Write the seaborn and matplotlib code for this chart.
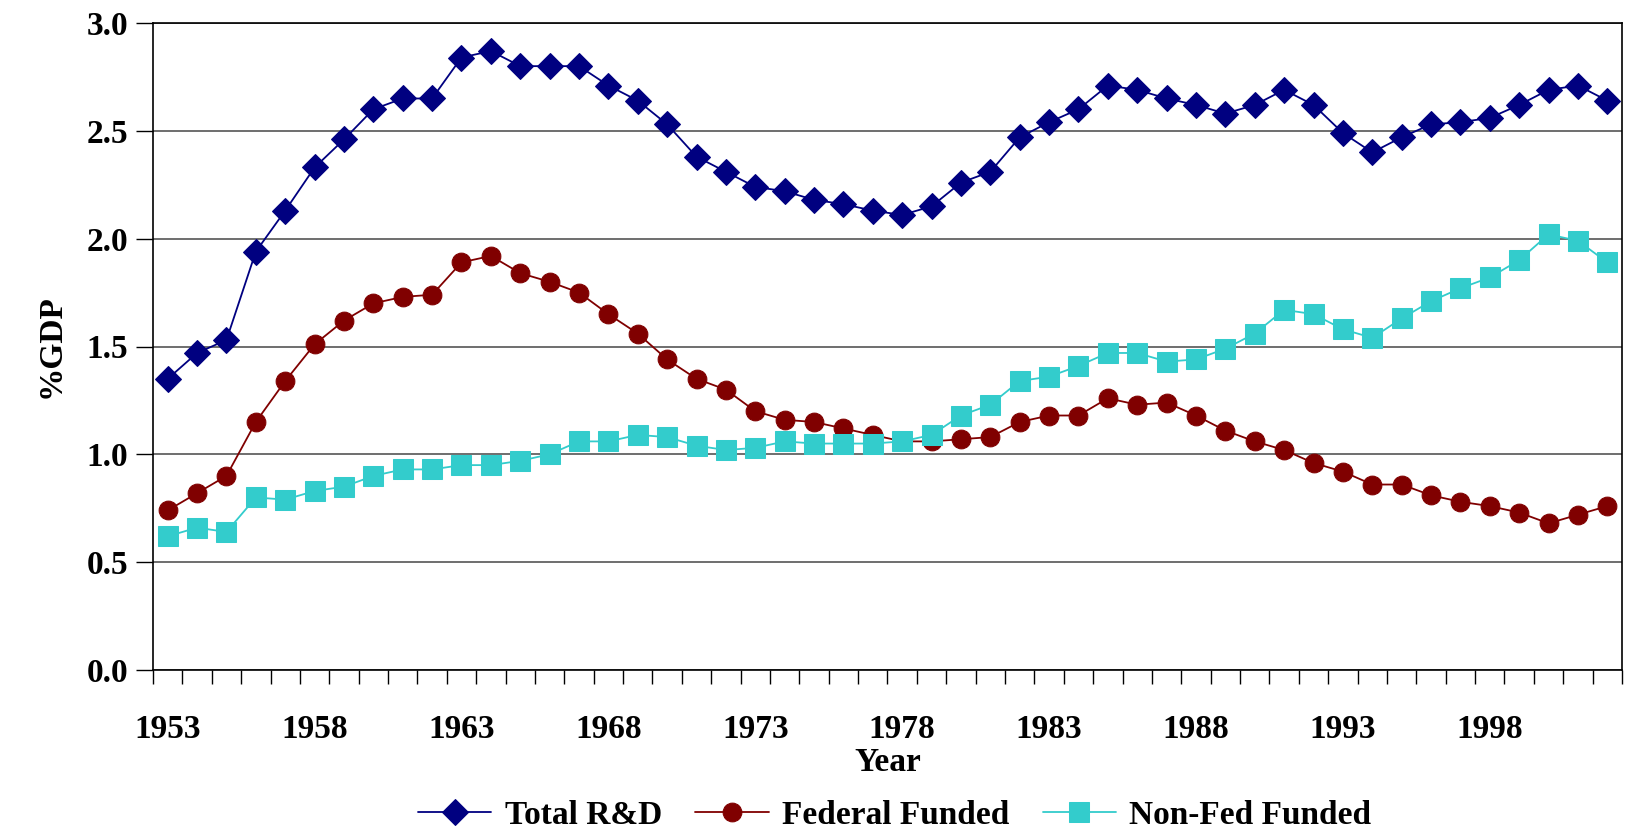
import numpy as np
import pandas as pd
import matplotlib
matplotlib.use("Agg")
import matplotlib.pyplot as plt
import seaborn as sns

years = list(range(1953, 2003))
total_rd = [1.35, 1.47, 1.53, 1.94, 2.13, 2.33, 2.46, 2.60, 2.65, 2.65,
            2.84, 2.87, 2.80, 2.80, 2.80, 2.71, 2.64, 2.53, 2.38, 2.31,
            2.24, 2.22, 2.18, 2.16, 2.13, 2.11, 2.15, 2.26, 2.31, 2.47,
            2.54, 2.60, 2.71, 2.69, 2.65, 2.62, 2.58, 2.62, 2.69, 2.62,
            2.49, 2.40, 2.47, 2.53, 2.54, 2.56, 2.62, 2.69, 2.71, 2.64]
federal = [0.74, 0.82, 0.90, 1.15, 1.34, 1.51, 1.62, 1.70, 1.73, 1.74,
           1.89, 1.92, 1.84, 1.80, 1.75, 1.65, 1.56, 1.44, 1.35, 1.30,
           1.20, 1.16, 1.15, 1.12, 1.09, 1.06, 1.06, 1.07, 1.08, 1.15,
           1.18, 1.18, 1.26, 1.23, 1.24, 1.18, 1.11, 1.06, 1.02, 0.96,
           0.92, 0.86, 0.86, 0.81, 0.78, 0.76, 0.73, 0.68, 0.72, 0.76]
nonfed = [0.62, 0.66, 0.64, 0.80, 0.79, 0.83, 0.85, 0.90, 0.93, 0.93,
          0.95, 0.95, 0.97, 1.00, 1.06, 1.06, 1.09, 1.08, 1.04, 1.02,
          1.03, 1.06, 1.05, 1.05, 1.05, 1.06, 1.09, 1.18, 1.23, 1.34,
          1.36, 1.41, 1.47, 1.47, 1.43, 1.44, 1.49, 1.56, 1.67, 1.65,
          1.58, 1.54, 1.63, 1.71, 1.77, 1.82, 1.90, 2.02, 1.99, 1.89]
series_names = ["Total R&D", "Federal Funded", "Non-Fed Funded"]
year_labels = [1953, 1958, 1963, 1968, 1973, 1978, 1983, 1988, 1993, 1998]
y_ticks = [0.0, 0.5, 1.0, 1.5, 2.0, 2.5, 3.0]

df = pd.DataFrame({
    "Year": years * 3,
    "value": total_rd + federal + nonfed,
    "series": [series_names[0]] * len(years) + [series_names[1]] * len(years)
              + [series_names[2]] * len(years),
})

sns.set_theme(style="white")
plt.rcParams["font.family"] = ["Liberation Serif", "DejaVu Serif"]
plt.rcParams["font.weight"] = "bold"
plt.rcParams["text.color"] = "black"
plt.rcParams["axes.labelcolor"] = "black"
plt.rcParams["xtick.color"] = "black"
plt.rcParams["ytick.color"] = "black"

fig = plt.figure(figsize=(16.27, 8.32), dpi=100)
ax = fig.add_axes([153 / 1627, 1 - 670 / 832, (1622 - 153) / 1627, (670 - 23) / 832])

colors = {"Total R&D": "#000080", "Federal Funded": "#800000", "Non-Fed Funded": "#33CCCC"}
markers = {"Total R&D": "D", "Federal Funded": "o", "Non-Fed Funded": "s"}
msizes = {"Total R&D": 13, "Federal Funded": 13.5, "Non-Fed Funded": 14}

for name in series_names:
    sub = df[df["series"] == name]
    sns.lineplot(data=sub, x="Year", y="value", ax=ax, color=colors[name],
                 marker=markers[name], markersize=msizes[name],
                 markeredgecolor=colors[name], linewidth=1.3, label=name,
                 legend=False)

ax.set_xlim(1952.5, 2002.5)
ax.set_ylim(0, 3.0)
ax.set_yticks(y_ticks)
ax.set_yticklabels([f"{v:.1f}" for v in y_ticks], fontsize=24, fontweight="bold")
ax.set_xticks(year_labels)
ax.set_xticklabels([str(y) for y in year_labels], fontsize=24, fontweight="bold")
ax.set_xticks(np.arange(1952.5, 2003.0, 1.0), minor=True)
ax.tick_params(axis="x", which="major", length=0, pad=32)
ax.tick_params(axis="x", which="minor", length=10, width=1, color="black", direction="out", bottom=True)
ax.tick_params(axis="y", which="major", length=12, width=1, color="black", direction="out", left=True, pad=6)

ax.grid(axis="y", color="#555555", linewidth=1.2)
ax.grid(axis="x", visible=False)
for s in ax.spines.values():
    s.set_color("black")
    s.set_linewidth(1.2)
ax.set_axisbelow(True)

ax.set_xlabel("Year", fontsize=24, fontweight="bold", labelpad=1)
ax.set_ylabel("%GDP", fontsize=24, fontweight="bold", labelpad=14)

handles, labels = ax.get_legend_handles_labels()
fig.legend(handles, labels, loc="center", bbox_to_anchor=(0.55, 1 - 815 / 832),
           ncol=3, frameon=False, handlelength=2.2,
           columnspacing=1.0, handletextpad=0.4, prop={"weight": "bold", "size": 24})

fig.savefig("out.png", dpi=100)
